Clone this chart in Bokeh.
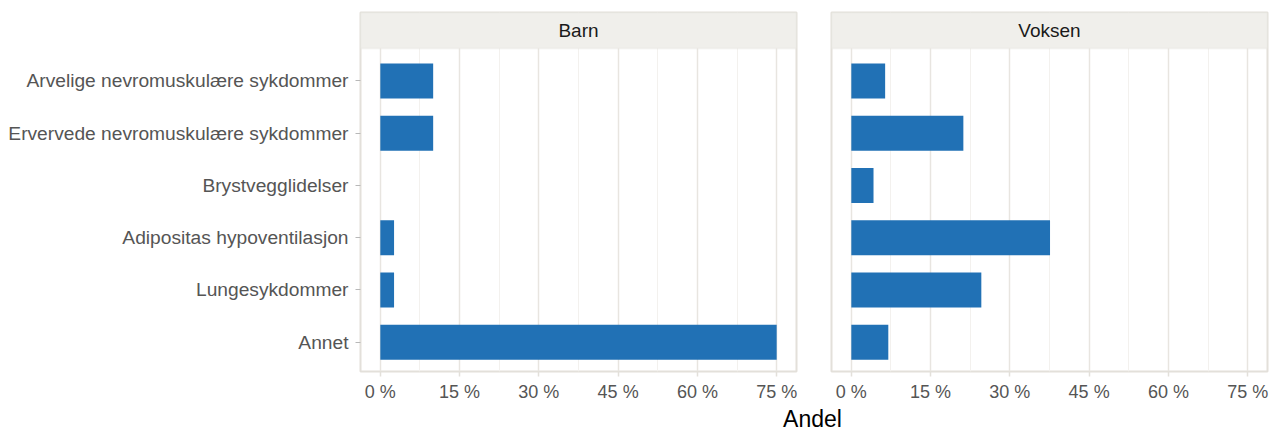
from bokeh.plotting import figure
from bokeh.models import (Range1d, FixedTicker, BoxAnnotation, Label,
                          CustomJSTickFormatter, ColumnDataSource)
from bokeh.layouts import row, column
from bokeh.embed import file_html
from bokeh.resources import INLINE

# ---------------- data ----------------
categories = [
    "Arvelige nevromuskulære sykdommer",
    "Ervervede nevromuskulære sykdommer",
    "Brystvegglidelser",
    "Adipositas hypoventilasjon",
    "Lungesykdommer",
    "Annet",
]
barn = [10.0, 10.0, 0.0, 2.6, 2.6, 75.0]
voksen = [6.4, 21.2, 4.2, 37.6, 24.6, 7.0]
panel_titles = ["Barn", "Voksen"]
x_ticks = [0, 15, 30, 45, 60, 75]
x_minor = [7.5, 22.5, 37.5, 52.5, 67.5]
x_title = "Andel"

# ---------------- style ----------------
BAR = "#2171B5"
BORDER = "#E3E0DA"
MAJOR_GRID = "#E8E5E0"
MINOR_GRID = "#F3F1EE"
STRIP_FILL = "#F0EFEB"
TICK_TXT = "#555555"
FONT = "Liberation Sans"

X_START, X_END = -3.75, 78.75
Y_START, Y_END = -0.56, 6.311
STRIP_BOTTOM = 5.62

n = len(categories)
ypos = [n - 1 - i for i in range(n)]


def make_panel(title, values, show_y, min_left, min_right):
    src = ColumnDataSource(dict(y=ypos, v=values, cat=categories))
    p = figure(
        frame_width=436, frame_height=359,
        x_range=Range1d(X_START, X_END), y_range=Range1d(Y_START, Y_END),
        toolbar_location=None, output_backend="svg",
        y_axis_location="left" if show_y else None,
        min_border_left=min_left, min_border_right=min_right,
        min_border_top=12, min_border_bottom=32,
    )
    p.background_fill_color = "white"
    p.border_fill_color = "white"
    p.outline_line_color = BORDER
    p.outline_line_width = 2

    # grid
    p.ygrid.grid_line_color = None
    p.xgrid.ticker = FixedTicker(ticks=x_ticks, minor_ticks=x_minor)
    p.xgrid.grid_line_color = MAJOR_GRID
    p.xgrid.grid_line_width = 1.5
    p.xgrid.minor_grid_line_color = MINOR_GRID
    p.xgrid.minor_grid_line_width = 1

    # bars
    p.hbar(y="y", left=0, right="v", height=0.67, source=src,
           fill_color=BAR, line_color=None)

    # x axis
    xa = p.xaxis[0]
    xa.ticker = FixedTicker(ticks=x_ticks, minor_ticks=x_minor)
    xa.formatter = CustomJSTickFormatter(code="return tick + ' %';")
    xa.axis_line_color = None
    xa.major_tick_line_color = BORDER
    xa.major_tick_line_width = 1.5
    xa.major_tick_out = 5
    xa.major_tick_in = 0
    xa.minor_tick_line_color = None
    xa.major_label_standoff = 5
    xa.major_label_text_font = FONT
    xa.major_label_text_font_size = "18px"
    xa.major_label_text_color = TICK_TXT

    if show_y:
        ya = p.yaxis[0]
        ya.ticker = FixedTicker(ticks=ypos)
        ya.major_label_overrides = {y: c for y, c in zip(ypos, categories)}
        ya.axis_line_color = None
        ya.major_tick_line_color = "#B8B8B8"
        ya.major_tick_out = 5
        ya.major_tick_in = 0
        ya.minor_tick_line_color = None
        ya.major_label_standoff = 7
        ya.major_label_text_font = FONT
        ya.major_label_text_font_size = "19.2px"
        ya.major_label_text_color = TICK_TXT

    # facet strip
    strip = BoxAnnotation(bottom=STRIP_BOTTOM, top=Y_END, left=X_START, right=X_END,
                          fill_color=STRIP_FILL, fill_alpha=1.0,
                          line_color=BORDER, line_width=2)
    p.add_layout(strip)
    p.add_layout(Label(x=(X_START + X_END) / 2, y=(STRIP_BOTTOM + Y_END) / 2,
                       text=title, text_align="center", text_baseline="middle",
                       text_font=FONT, text_font_size="19px", text_color="#1A1A1A"))
    return p


p1 = make_panel(panel_titles[0], barn, True, 360, 17)
p2 = make_panel(panel_titles[1], voksen, False, 18, 12)

p3 = figure(width=1279, height=27, x_range=Range1d(0, 1), y_range=Range1d(0, 1),
            toolbar_location=None, output_backend="svg",
            x_axis_location=None, y_axis_location=None, min_border=0)
p3.outline_line_color = None
p3.grid.grid_line_color = None
p3.add_layout(Label(x=812, y=12.5, x_units="screen", y_units="screen",
                    text=x_title, text_align="center", text_baseline="middle",
                    text_font=FONT, text_font_size="23px", text_color="#000000"))

layout = column(row(p1, p2), p3)

open("out.html", "w").write(file_html(layout, INLINE))
